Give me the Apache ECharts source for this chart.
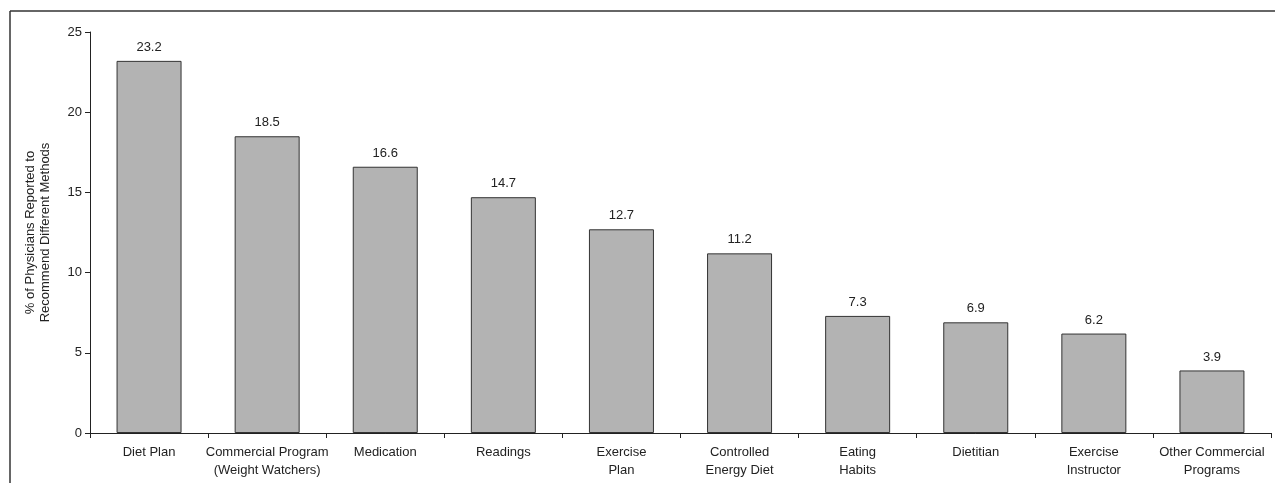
<!DOCTYPE html>
<html>
<head>
<meta charset="utf-8">
<script src="https://cdn.jsdelivr.net/npm/echarts@6/dist/echarts.min.js"></script>
<style>
html,body{margin:0;padding:0;background:#fff;}
#c{width:1275px;height:483px;}
</style>
</head>
<body>
<div id="c"></div>
<script>
var categories = ['Diet Plan', 'Commercial Program\n(Weight Watchers)', 'Medication', 'Readings', 'Exercise\nPlan', 'Controlled\nEnergy Diet', 'Eating\nHabits', 'Dietitian', 'Exercise\nInstructor', 'Other Commercial\nPrograms'];
var values = [23.2, 18.5, 16.6, 14.7, 12.7, 11.2, 7.3, 6.9, 6.2, 3.9];
var yTicks = [0, 5, 10, 15, 20, 25];
var yName = '% of Physicians Reported to\nRecommend Different Methods';

var FONT = '"Liberation Sans Narrow", "Liberation Sans", Arial, sans-serif';
var FS = 13;
var chart = echarts.init(document.getElementById('c'));
chart.setOption({
  animation: false,
  backgroundColor: '#fff',
  textStyle: { fontFamily: FONT },
  graphic: [
    { type: 'line', shape: { x1: 10, y1: 11, x2: 1275, y2: 11 }, style: { stroke: '#333', lineWidth: 1.5 } },
    { type: 'line', shape: { x1: 10, y1: 11, x2: 10, y2: 483 }, style: { stroke: '#333', lineWidth: 1.5 } }
  ],
  grid: { left: 90, right: 4, top: 32, bottom: 50, containLabel: false },
  xAxis: {
    type: 'category',
    data: categories,
    axisLine: { lineStyle: { color: '#222', width: 1 } },
    axisTick: { show: true, length: 5, alignWithLabel: false, lineStyle: { color: '#222' } },
    axisLabel: { color: '#222', fontSize: FS, fontFamily: FONT, margin: 10, lineHeight: 18, interval: 0 }
  },
  yAxis: {
    type: 'value',
    min: yTicks[0],
    max: yTicks[yTicks.length - 1],
    interval: 5,
    name: yName,
    nameLocation: 'middle',
    nameGap: 37,
    nameRotate: 90,
    nameTextStyle: { color: '#222', fontSize: FS, fontFamily: FONT, lineHeight: 15 },
    axisLine: { show: true, lineStyle: { color: '#222', width: 1 } },
    axisTick: { show: true, length: 5, lineStyle: { color: '#222' } },
    axisLabel: { color: '#222', fontSize: FS, fontFamily: FONT, margin: 8 },
    splitLine: { show: false }
  },
  series: [{
    type: 'bar',
    data: values,
    barWidth: 65,
    itemStyle: { color: '#b3b3b3', borderColor: '#333', borderWidth: 1 },
    label: { show: true, position: 'top', distance: 7, color: '#222', fontSize: FS, fontFamily: FONT, formatter: function (p) { return p.value.toFixed(1); } }
  }]
});
</script>
</body>
</html>
